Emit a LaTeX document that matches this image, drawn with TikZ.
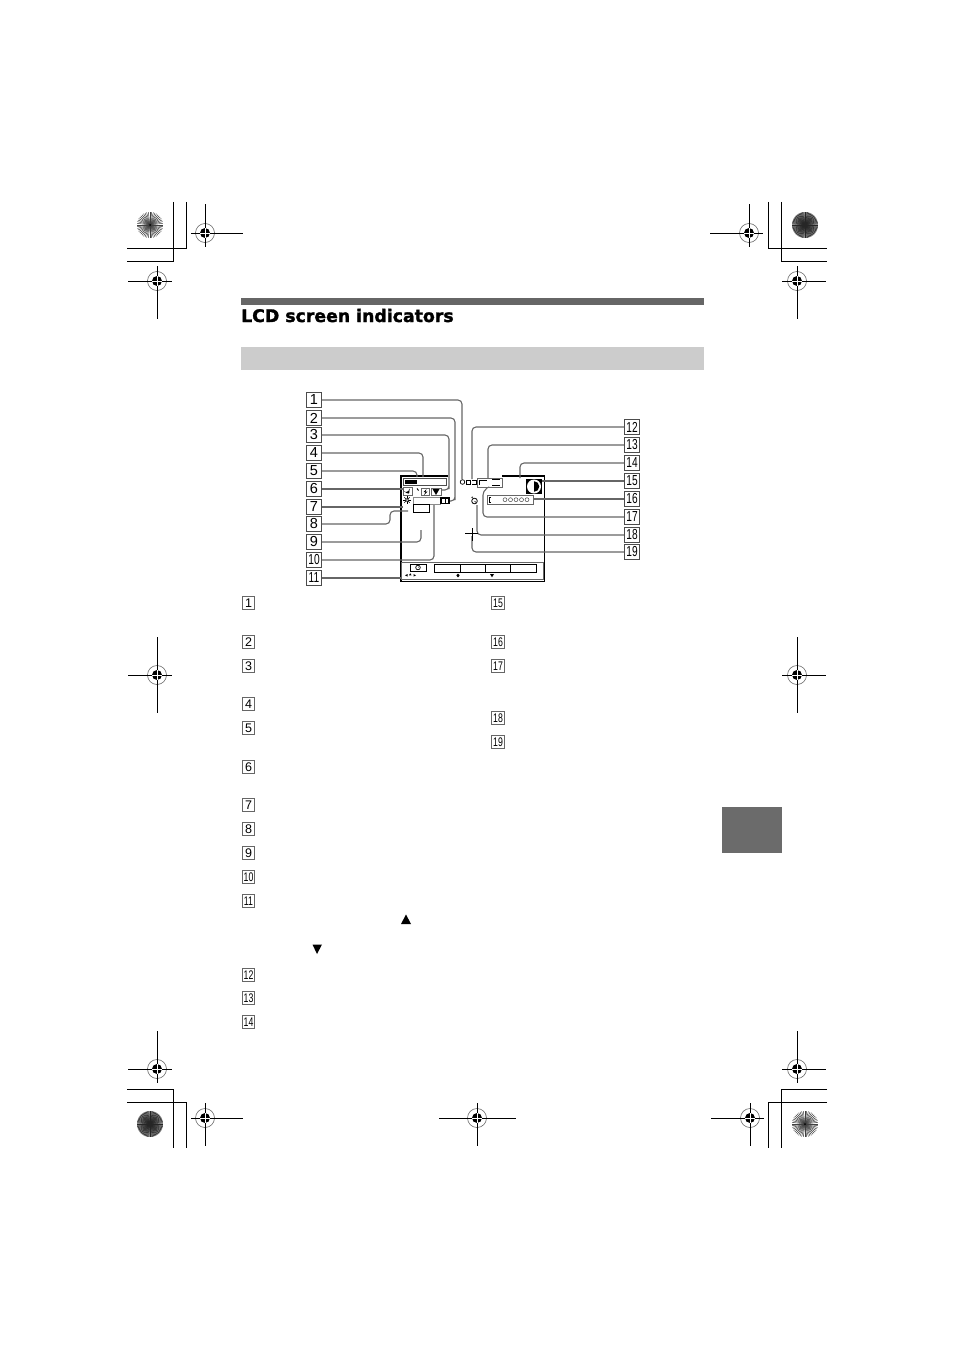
\documentclass[tikz,border=0pt]{standalone}
\usepackage{fontspec}
\setmainfont{Liberation Sans}
\newfontfamily\titlefont[BoldFeatures={FakeBold=1.6}]{DejaVu Sans}
\usetikzlibrary{positioning}
\tikzset{
  numbox/.style={draw=black!70, line width=1.1pt, minimum size=14.5pt, inner sep=0pt, fill=white, font=\fontsize{14.5}{14.5}\selectfont},
  smallbox/.style={draw=black!60, line width=.9pt, minimum size=12.5pt, inner sep=0pt, fill=white, font=\fontsize{12.5}{12.5}\selectfont},
  lead/.style={draw=black!60, line width=1.1pt, rounded corners=4pt},
  crop/.style={black, line width=.9pt},
  lcd/.style={black, line width=.9pt},
  lcdgray/.style={black!60, line width=1pt}
}
% two digits are set narrow in their boxes
\newcommand{\nar}[1]{\scalebox{.7}[1]{#1}}
\newcommand{\spokes}[4]{%
  \foreach \a in {1,...,#3}
    \draw[#4] (#1,#2) -- ++({13*cos(360/#3*\a)},{13*sin(360/#3*\a)});
}
\begin{document}
\begin{tikzpicture}[x=1pt,y=-1pt]
  \useasboundingbox (0,0) rectangle (954,1351);
  % crop lines
  \draw[crop] (186,202) -- (186,248) -- (127,248);
  \draw[crop] (173,202) -- (173,261) -- (127,261);
  \draw[crop] (768,202) -- (768,248) -- (827,248);
  \draw[crop] (781,202) -- (781,261) -- (827,261);
  \draw[crop] (127,1089) -- (173,1089) -- (173,1148);
  \draw[crop] (127,1102) -- (186,1102) -- (186,1148);
  \draw[crop] (827,1089) -- (781,1089) -- (781,1148);
  \draw[crop] (827,1102) -- (768,1102) -- (768,1148);
  % registration marks: x/y/left/right/up/down
  \foreach \x/\y/\l/\r/\u/\d in {205/233/14/38/29/14, 157/281/29/15/15/38, 749/233/39/14/29/14, 797/281/15/29/15/38,
      157/675/29/15/38/38, 797/675/15/29/38/38, 157/1069/29/15/38/14, 797/1069/15/29/38/14,
      205/1118/14/38/15/28, 477/1118/38/39/15/28, 750/1118/39/14/15/28} {
    \draw[black!60, line width=.6pt] (\x,\y) circle [radius=9.5];
    \draw[crop] (\x-\l,\y) -- (\x+\r,\y);
    \draw[crop] (\x,\y-\u) -- (\x,\y+\d);
    \fill (\x,\y) circle [radius=5];
    \draw[white, line width=.7pt] (\x-5,\y) -- (\x+5,\y) (\x,\y-5) -- (\x,\y+5);
  }
  % printer's wheels
  \spokes{150}{225}{48}{black!75, line width=.5pt}
  \fill[black] (150,225) circle [radius=1];
  \fill[black!40] (805,225) circle [radius=13];
  \spokes{805}{225}{64}{black!85, line width=.5pt}
  \fill[black!40] (150,1124) circle [radius=13];
  \spokes{150}{1124}{64}{black!85, line width=.5pt}
  \spokes{805}{1124}{48}{black!75, line width=.5pt}
  \fill[black] (805,1124) circle [radius=1];
  % page furniture
  \fill[black!60] (241,298) rectangle (704,305);
  \node [anchor=base west, inner sep=0pt] (title) at (241,322) {\titlefont\bfseries\fontsize{17.3}{18}\selectfont LCD screen indicators};
  \fill[black!20] (241,347) rectangle (704,370);
  \fill[black!58] (722,807) rectangle (782,853);
  % number boxes beside the screen
  \node [numbox] (n1) at (314,400) {1};
  \node [numbox] (n2) at (314,418) {2};
  \node [numbox] (n3) at (314,435) {3};
  \node [numbox] (n4) at (314,453) {4};
  \node [numbox] (n5) at (314,471) {5};
  \node [numbox] (n6) at (314,489) {6};
  \node [numbox] (n7) at (314,507) {7};
  \node [numbox] (n8) at (314,524) {8};
  \node [numbox] (n9) at (314,542) {9};
  \node [numbox] (n10) at (314,560) {\nar{10}};
  \node [numbox] (n11) at (314,578) {\nar{11}};
  \node [numbox] (n12) at (632,427) {\nar{12}};
  \node [numbox] (n13) at (632,445) {\nar{13}};
  \node [numbox] (n14) at (632,463) {\nar{14}};
  \node [numbox] (n15) at (632,481) {\nar{15}};
  \node [numbox] (n16) at (632,499) {\nar{16}};
  \node [numbox] (n17) at (632,517) {\nar{17}};
  \node [numbox] (n18) at (632,535) {\nar{18}};
  \node [numbox] (n19) at (632,552) {\nar{19}};
  % where the leads end
  \coordinate (t1) at (462,479);
  \coordinate (t2) at (450,501);
  \coordinate (t3) at (441,490);
  \coordinate (t4) at (423,477);
  \coordinate (t5) at (417,477);
  \coordinate (t6) at (403,489);
  \coordinate (t7) at (403,507);
  \coordinate (t8a) at (390,511);
  \coordinate (t8) at (408,511);
  \coordinate (t9) at (421,530);
  \coordinate (t10) at (434,505);
  \coordinate (t11) at (402,578);
  \coordinate (t12) at (472,479);
  \coordinate (t13) at (488,478);
  \coordinate (t14) at (520,478);
  \coordinate (t15) at (541,481);
  \coordinate (t16) at (533,499);
  \coordinate (t17) at (483,491);
  \coordinate (t18) at (477,505);
  \coordinate (t19) at (472,536);
  % the screen
  \draw[lcd, line width=1.1pt] (448,476) -- (401,476) -- (401,581.5) -- (544.5,581.5) -- (544.5,476) -- (502,476);
  \draw[lcdgray] (401,562.5) rectangle (543,579);
  \draw[lead] (n1.east) -| (t1);
  \draw[lead] (n2.east) -| (455,496) |- (t2);
  \draw[lead] (n3.east) -| (449,485) |- (t3);
  \draw[lead] (n4.east) -| (t4);
  \draw[lead] (n5.east) -| (t5);
  \draw[lead] (n6.east) -- (t6);
  \draw[lead] (n7.east) -- (t7);
  \draw[lead] (n8.east) -| (t8a) -- (t8);
  \draw[lead] (n9.east) -| (t9);
  \draw[lead] (n10.east) -| (t10);
  \draw[lead] (n11.east) -- (t11);
  \draw[lead] (n12.west) -| (t12);
  \draw[lead] (n13.west) -| (t13);
  \draw[lead] (n14.west) -| (t14);
  \draw[lead] (n15.west) -- (t15);
  \draw[lead] (n16.west) -- (t16);
  \draw[lead] (n17.west) -| (t17) -- (486,489);
  \draw[lead] (n18.west) -| (t18);
  \draw[lead] (n19.west) -| (t19);
  % top row of indicators
  \draw[lcd, draw=black!70] (403.5,478) rectangle (446,485.5);
  \fill (405,480) rectangle (417,484);
  \draw[black!45, line width=.6pt] (413,497) rectangle (440,504);
  \draw[black!60, line width=.8pt] (403,487) rectangle (412,495.5);
  \fill (409.5,488.5) arc [start angle=0, end angle=150, radius=3.6] -- (406.5,493) arc [start angle=150, end angle=0, radius=1.6] -- cycle;
  \draw[lcd] (417,488.5) -- (418.5,490.5);
  \draw[black!60, line width=.8pt] (421.5,488) rectangle (429.5,495.5);
  \fill (426.5,489) -- (423.5,492) -- (425.5,492) -- (424,495) -- (427.5,491.5) -- (425.5,491.5) -- cycle;
  \draw[black!60, line width=.8pt] (431,488) rectangle (441,495.5);
  \fill (432.5,489) -- (439.5,489) -- (436,495) -- cycle;
  % sun
  \foreach \a in {0,45,...,315}
    \draw[black, line width=.5pt] (407,500) -- ++(\a:3.8);
  \fill[white] (407,500) circle [radius=1.6];
  \draw[black, line width=.5pt] (407,500) circle [radius=1.6];
  \fill (440,497) rectangle (450,504);
  \fill[white] (442,498.5) rectangle (444.5,502.5);
  \fill[white] (445.5,498.5) rectangle (448,502.5);
  \draw[lcd] (413.5,504.5) rectangle (429,512.5);
  \fill (421,511.5) rectangle (429,513);
  \draw[lcd, line width=.7pt] (462.5,482) circle [radius=2.3];
  \draw[lcd] (470,480.5) -- (466.5,480.5) -- (466.5,484.5) -- (470,484.5);
  \fill (470,480) rectangle (471,485);
  \draw[lcd] (472,480.5) -- (476,480.5) -- (476,484.5) -- (472,484.5);
  \draw[lcdgray] (477.5,478) rectangle (502,487);
  \draw[lcd] (479.5,485) -- (479.5,480) -- (487,480);
  \draw[lcd] (492,479.8) -- (500,479.8) (492,485) -- (500,485);
  % the round one at the top right
  \fill (526,479) rectangle (542,494);
  \fill[white] (534,486.5) circle [radius=7];
  \fill (534,481.2) arc [start angle=-90, end angle=90, radius=5.3] -- cycle;
  \draw[lcdgray] (487.5,495) rectangle (533,504);
  \draw[lcd] (491,497) -- (489.5,497) -- (489.5,502) -- (491,502);
  \foreach \x in {505,510.5,516,521.5,527}
    \draw[black!80, line width=.45pt] (\x,499.7) circle [radius=2];
  % clock
  \draw[lcd, line width=.8pt] (474.5,501) circle [radius=2.8];
  \draw[lcd, line width=.5pt] (474.5,501) -- (476,502.5);
  \draw[lcd, line width=.9pt] (471.5,497.5) -- (473,497);
  % cross in the middle
  \draw[lcd] (465,533) -- (478,533) (472,528) -- (472,541);
  % bottom bar
  \draw[lcd] (410,564) rectangle (426,571);
  \draw[lcd, line width=.7pt] (418,567.5) circle [radius=2.3];
  \draw[lcd, line width=.4pt] (418,567.5) -- (419.2,566.5);
  \draw[lcd] (434,564) rectangle (536,572);
  \draw[lcd] (460,564) -- (460,572) (485,564) -- (485,572) (510,564) -- (510,572);
  \fill (405,575.3) -- (407.5,574) -- (407.5,576.6) -- cycle;
  \fill (409,575.3) -- (411.5,575.3) -- (410.2,573.2) -- cycle;
  \fill (416,575.3) -- (413.5,574) -- (413.5,576.6) -- cycle;
  \fill (458,573.5) -- (456.3,575.5) -- (458,577.3) -- (459.7,575.5) -- cycle;
  \fill (490,574) -- (494,574) -- (492,577.3) -- cycle;
  % legend numbers underneath
  \node [smallbox] (m1) at (248.5,603) {1};
  \node [smallbox] (m2) at (248.5,642) {2};
  \node [smallbox] (m3) at (248.5,666) {3};
  \node [smallbox] (m4) at (248.5,704) {4};
  \node [smallbox] (m5) at (248.5,728) {5};
  \node [smallbox] (m6) at (248.5,767) {6};
  \node [smallbox] (m7) at (248.5,805) {7};
  \node [smallbox] (m8) at (248.5,829) {8};
  \node [smallbox] (m9) at (248.5,853) {9};
  \node [smallbox] (m10) at (248.5,877) {\nar{10}};
  \node [smallbox] (m11) at (248.5,901) {\nar{11}};
  \node [smallbox] (m12) at (248.5,975) {\nar{12}};
  \node [smallbox] (m13) at (248.5,998) {\nar{13}};
  \node [smallbox] (m14) at (248.5,1022) {\nar{14}};
  \node [smallbox] (m15) at (498,603) {\nar{15}};
  \node [smallbox] (m16) at (498,642) {\nar{16}};
  \node [smallbox] (m17) at (498,666) {\nar{17}};
  \node [smallbox] (m18) at (498,718) {\nar{18}};
  \node [smallbox] (m19) at (498,742) {\nar{19}};
  \fill (406,914.5) -- (411,924) -- (401,924) -- cycle;
  \fill (312.5,944.5) -- (322,944.5) -- (317,954) -- cycle;
\end{tikzpicture}
\end{document}
